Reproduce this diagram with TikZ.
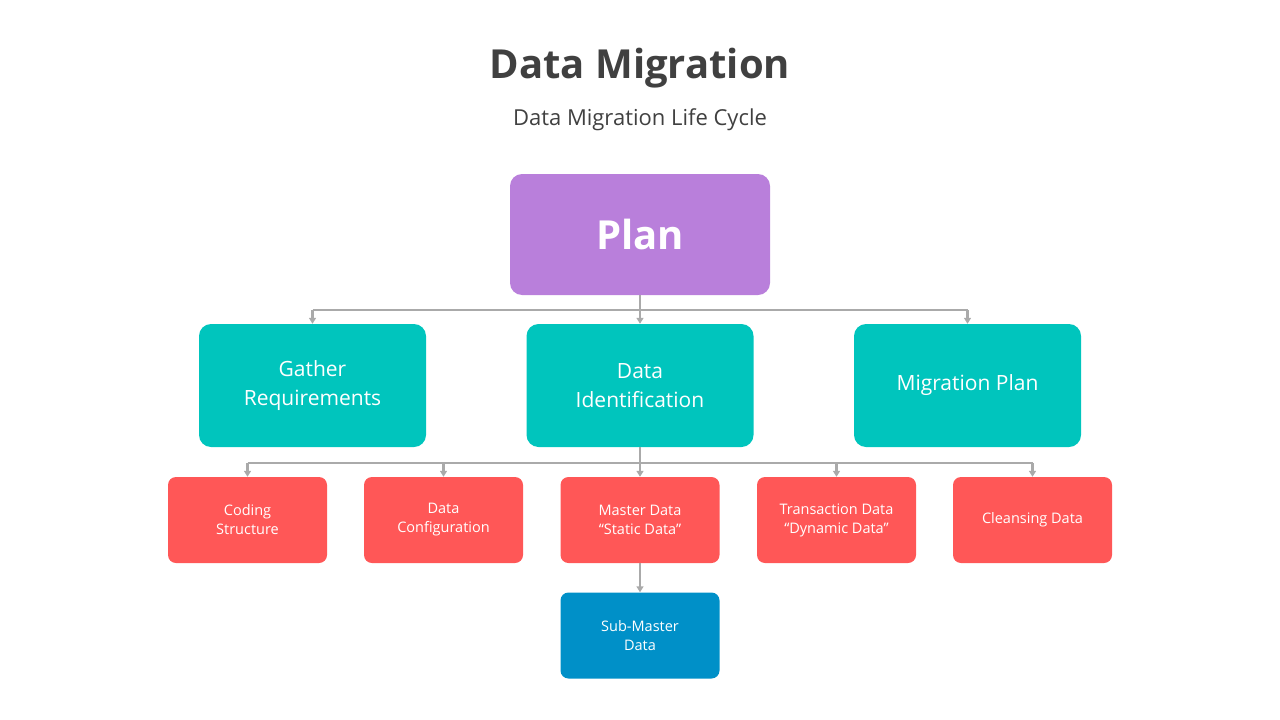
\documentclass[tikz,border=0pt]{standalone}
\usepackage{fontspec}
\setmainfont{Open Sans}
\usetikzlibrary{arrows.meta}
\definecolor{plancol}{HTML}{B97FDB}
\definecolor{tealcol}{HTML}{00C5BD}
\definecolor{redcol}{HTML}{FF5757}
\definecolor{bluecol}{HTML}{0090C8}
\definecolor{linecol}{HTML}{AAAAAA}
\definecolor{titlecol}{HTML}{404040}
\tikzset{
  box/.style={rounded corners=12pt, inner sep=0pt, align=center, text=white},
  planbox/.style={box, fill=plancol, minimum width=260pt, minimum height=121pt, font=\fontsize{40}{44}\selectfont\bfseries},
  midbox/.style={box, fill=tealcol, minimum width=227pt, minimum height=123pt, font=\fontsize{21}{29}\selectfont},
  lowbox/.style={box, rounded corners=8pt, fill=redcol, minimum width=159pt, minimum height=86pt, font=\fontsize{14.5}{19}\selectfont},
  subbox/.style={lowbox, fill=bluecol},
  conn/.style={draw=linecol, line width=2.5pt},
  arr/.style={conn, -{Triangle[width=7pt,length=6pt]}}
}
\begin{document}
\begin{tikzpicture}[x=1pt,y=-1pt]
\useasboundingbox (0,0) rectangle (1280,720);
\node[font=\fontsize{40}{44}\selectfont\bfseries, text=titlecol] (title) at (640,68) {Data Migration};
\node[font=\fontsize{22}{26}\selectfont, text=titlecol] (sub) at (640,120) {Data Migration Life Cycle};
\node[planbox] (plan) at (640,234.5) {Plan};
\node[midbox] (gr) at (312.5,385.5) {Gather\\Requirements};
\node[midbox] (di) at (640,385.5) {Data\\Identification};
\node[midbox] (mp) at (967.5,385.5) {Migration Plan};
\node[lowbox] (cs) at (247.5,520) {Coding\\Structure};
\node[lowbox] (dc) at (443.5,520) {Data\\Configuration};
\node[lowbox] (md) at (640,520) {Master Data\\``Static Data''};
\node[lowbox] (td) at (836.5,520) {Transaction Data\\``Dynamic Data''};
\node[lowbox] (cd) at (1032.5,520) {Cleansing Data};
\node[subbox] (sm) at (640,635.5) {Sub-Master\\Data};
\coordinate (j1) at (640,310);
\coordinate (j2) at (640,463);
\draw[conn] (plan.south) -- (j1);
\draw[conn] (j1 -| gr) -- (j1 -| mp);
\foreach \n in {gr,di,mp} \draw[arr] (j1 -| \n) -- (\n.north);
\draw[conn] (di.south) -- (j2);
\draw[conn] (j2 -| cs) -- (j2 -| cd);
\foreach \n in {cs,dc,md,td,cd} \draw[arr] (j2 -| \n) -- (\n.north);
\draw[arr] (md.south) -- (sm.north);
\end{tikzpicture}
\end{document}
